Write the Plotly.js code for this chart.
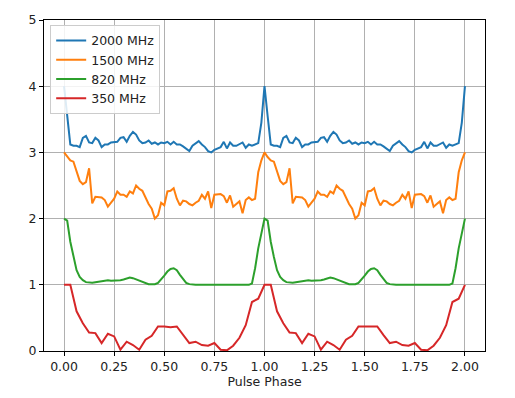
<!DOCTYPE html>
<html>
<head>
<meta charset="utf-8">
<script src="https://cdn.plot.ly/plotly-3.0.1.min.js"></script>
<style>html,body{margin:0;padding:0;background:#fff}#chart{width:515px;height:398px}</style>
</head>
<body>
<div id="chart"></div>
<script>
// one rotation (phase 0 -> 1) of each profile, already offset as drawn
const seriesNames = ["2000 MHz", "1500 MHz", "820 MHz", "350 MHz"];
const seriesColors = ["#1f77b4", "#ff7f0e", "#2ca02c", "#d62728"];

const profile2000 = [4.0,3.55,3.12,3.1,3.1,3.08,3.22,3.25,3.15,3.14,3.22,3.18,3.08,3.12,3.12,3.15,
  3.16,3.16,3.22,3.23,3.16,3.25,3.31,3.27,3.18,3.14,3.15,3.18,3.13,3.15,3.12,3.15,
  3.14,3.16,3.12,3.16,3.12,3.12,3.09,3.06,3.02,3.1,3.14,3.17,3.12,3.08,3.02,3.0,
  3.04,3.06,3.08,3.16,3.06,3.15,3.1,3.1,3.12,3.15,3.07,3.12,3.1,3.12,3.14,3.45];

const profile1500 = [3.0,2.93,2.88,2.86,2.7,2.57,2.52,2.55,2.76,2.23,2.33,2.33,2.32,2.28,2.18,2.24,
  2.3,2.41,2.36,2.36,2.33,2.41,2.38,2.5,2.45,2.42,2.32,2.22,2.15,2.0,2.05,2.24,
  2.2,2.41,2.42,2.46,2.3,2.2,2.27,2.26,2.22,2.2,2.24,2.27,2.36,2.3,2.41,2.16,
  2.36,2.36,2.37,2.34,2.24,2.35,2.18,2.22,2.26,2.08,2.28,2.32,2.28,2.3,2.7,2.88];

const profile820 = [2.0,1.97,1.65,1.42,1.22,1.12,1.07,1.04,1.03,1.03,1.04,1.05,1.06,1.07,1.07,1.06,
  1.06,1.06,1.07,1.08,1.1,1.11,1.1,1.08,1.06,1.04,1.02,1.01,1.01,1.01,1.03,1.08,
  1.14,1.2,1.24,1.25,1.22,1.15,1.08,1.03,1.01,1.0,1.0,1.0,1.0,1.01,1.0,1.0,
  1.0,1.0,1.0,1.0,1.01,1.0,1.0,1.0,1.0,1.0,1.0,1.0,1.02,1.25,1.55,1.8];

const profile350 = [1.0,1.0,0.6,0.42,0.28,0.27,0.12,0.26,0.22,0.02,0.14,0.09,0.02,0.17,0.23,0.37,
  0.37,0.36,0.37,0.24,0.12,0.14,0.09,0.08,0.12,0.02,0.01,0.08,0.2,0.39,0.74,0.79];

const xTickVals = [0, 0.25, 0.5, 0.75, 1.0, 1.25, 1.5, 1.75, 2.0];
const xTickText = ["0.00","0.25","0.50","0.75","1.00","1.25","1.50","1.75","2.00"];
const yTickVals = [0, 1, 2, 3, 4, 5];

// two rotations plus the closing point at phase 2
function twoRotations(p) {
  const y = p.concat(p, [p[0]]);
  const x = y.map((_, i) => i / p.length);
  return {x, y};
}

const profiles = [profile2000, profile1500, profile820, profile350];
const traces = profiles.map((p, k) => {
  const d = twoRotations(p);
  return {
    x: d.x, y: d.y, type: "scatter", mode: "lines", name: seriesNames[k],
    line: {color: seriesColors[k], width: 2}
  };
});

const axisCommon = {
  showline: true, mirror: true, linecolor: "#000", linewidth: 1,
  ticks: "outside", ticklen: 4, tickcolor: "#000",
  showgrid: true, gridcolor: "#b0b0b0", gridwidth: 1, zeroline: false,
  tickfont: {family: "DejaVu Sans", size: 12.5, color: "#222"}
};

const layout = {
  width: 515, height: 398,
  margin: {l: 44, r: 30, t: 20, b: 47},
  paper_bgcolor: "#fff", plot_bgcolor: "#fff",
  showlegend: true,
  legend: {
    x: 0.014, y: 0.985, xanchor: "left", yanchor: "top",
    bgcolor: "rgba(255,255,255,0.85)", bordercolor: "#cccccc", borderwidth: 1,
    font: {family: "DejaVu Sans", size: 12.5, color: "#222"},
    tracegroupgap: 0
  },
  xaxis: Object.assign({}, axisCommon, {
    range: [-0.1, 2.1], tickvals: xTickVals, ticktext: xTickText,
    title: {text: "Pulse Phase", font: {family: "DejaVu Sans", size: 12.5, color: "#222"}, standoff: 2}
  }),
  yaxis: Object.assign({}, axisCommon, {
    range: [0, 5], tickvals: yTickVals
  })
};

Plotly.newPlot("chart", traces, layout, {displayModeBar: false, staticPlot: true});
</script>
</body>
</html>
